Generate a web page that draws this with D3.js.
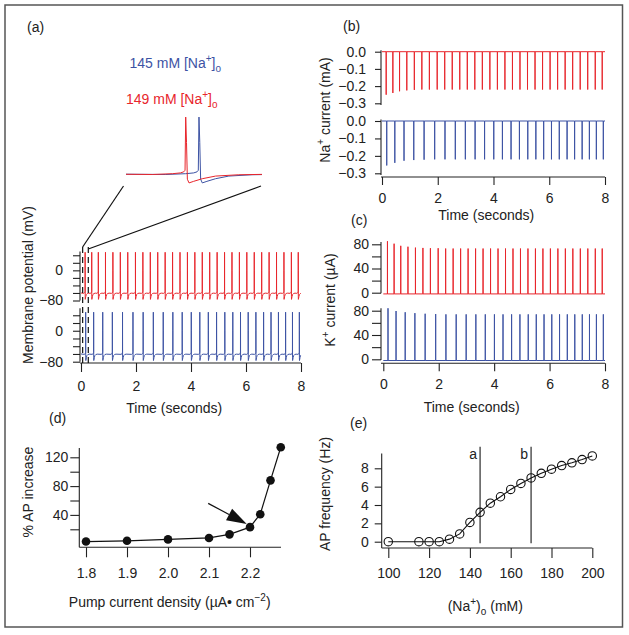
<!DOCTYPE html>
<html><head><meta charset="utf-8">
<script src="https://cdn.jsdelivr.net/npm/d3@7"></script>
<style>
body{margin:0;background:#fff;}
svg{display:block;}
text{font-family:"Liberation Sans",Arial,Helvetica,sans-serif;font-size:14px;fill:#222;}
</style></head><body>
<svg id="fig" width="629" height="635"></svg>
<script>
// ---------------- DATA ----------------
const redSpikeTimes = [0.15,0.39,0.63,0.89,1.16,1.43,1.70,1.98,2.25,2.52,2.79,3.06,3.33,3.60,3.87,4.14,4.41,4.68,4.95,5.22,5.49,5.76,6.03,6.30,6.57,6.84,7.11,7.38,7.65,7.90];
const blueSpikeTimes = [0.17,0.46,0.79,1.14,1.51,1.89,2.26,2.63,2.99,3.34,3.68,4.01,4.32,4.63,4.93,5.23,5.52,5.80,6.08,6.36,6.64,6.91,7.18,7.44,7.69,7.94];
const redNaPeaks = [-0.25,-0.24,-0.23,-0.225,-0.222,-0.22,-0.22,-0.22,-0.22,-0.22,-0.22,-0.22,-0.22,-0.22,-0.22,-0.22,-0.22,-0.22,-0.22,-0.22,-0.22,-0.22,-0.22,-0.22,-0.22,-0.22,-0.22,-0.22,-0.22,-0.22];
const blueNaPeaks = [-0.255,-0.24,-0.228,-0.224,-0.222,-0.22,-0.22,-0.22,-0.22,-0.22,-0.22,-0.22,-0.22,-0.22,-0.22,-0.22,-0.22,-0.22,-0.22,-0.22,-0.22,-0.22,-0.22,-0.22,-0.22,-0.22];
const redKPeaks = [85,81,77.5,76,74.5,74,73.5,73.5,73,73,73,73,73,73,73,73,73,73,73,73,73,73,73,73,73,73,73,73,73,73];
const blueKPeaks = [84,79.5,77.5,76,75,74.5,74,74,74,74,74,74,74,74,74,74,74,74,74,74,74,74,74,74,74,74];
const kBaseline = -2;
const vmPeak = 48;
// action potential shape (time offset s, mV)
const apShapeT = [-0.05,-0.02,-0.008,-0.003,-0.001,0,0.0012,0.0025,0.005,0.012,0.025,0.045,0.08,0.13];
const apShapeV = [-61,-59.5,-58,-56,-53,48,0,-70,-77,-74,-69,-64,-61.5,-60.5];
const zoomWindow = [0.06,0.265];
const timeTicks = [0,2,4,6,8];
const vmTicks = [-80,-60,-40,-20,0,20,40];
const vmLabels = [0,-80];
const naTicks = [0,-0.1,-0.2,-0.3];
const kTicks = [0,20,40,60,80];
const kLabels = [0,40,80];
const pumpDensity = [1.8,1.9,2.0,2.1,2.15,2.2,2.225,2.25,2.275];
const apIncrease = [3,4,6,8,13,23,41,88,134];
const pumpTicks = [1.8,1.9,2.0,2.1,2.2];
const apIncTicks = [20,40,60,80,100,120];
const apIncLabels = [40,80,120];
const naConc = [100,115,120,125,130,135,140,145,150,155,160,165,170,175,180,185,190,195,200];
const apFreq = [0,0,0,0,0.28,0.85,2.1,3.2,4.2,4.9,5.7,6.35,6.95,7.45,7.9,8.3,8.6,8.95,9.35];
const naTicksX = [100,120,140,160,180,200];
const freqTicks = [0,2,4,6,8];
const markerConc = [145,170];
const markerNames = ["a","b"];
const arrowFrom = [2.098,56], arrowTo = [2.192,27.5];

// ---------------- SETUP ----------------
const RED="#e8262c", BLUE="#3d53a4", AX="#222";
const svg = d3.select("#fig");
svg.append("rect").attr("x",5).attr("y",5).attr("width",617.5).attr("height",622)
  .attr("fill","none").attr("stroke","#555").attr("stroke-width",1.5);

function rich(sel, parts){
  let off=0;
  parts.forEach(p=>{
    const target = p.sup? -6 : p.sub? 4 : 0;
    const ts = sel.append("tspan").text(p.t).attr("dy", target-off);
    if(p.sup||p.sub) ts.attr("font-size",10);
    off=target;
  });
  return sel;
}
function label(x,y,txt,anchor){
  return svg.append("text").attr("x",x).attr("y",y).attr("text-anchor",anchor||"start").text(txt);
}
function yTitle(x,y,parts){
  const t = svg.append("text").attr("transform",`translate(${x},${y}) rotate(-90)`).attr("text-anchor","middle");
  rich(t,parts); return t;
}
function xTitle(x,y,parts){
  const t = svg.append("text").attr("x",x).attr("y",y).attr("text-anchor","middle");
  rich(t,parts); return t;
}
const minus = d3.format("d");
function yAxis(scale,x,ticks,labeled,fmt,len,pad,ext){
  const g = svg.append("g").attr("transform",`translate(${x},0)`)
    .call(d3.axisLeft(scale).tickValues(ticks).tickSize(len).tickPadding(pad).tickSizeOuter(0)
      .tickFormat(d=> labeled.indexOf(d)>=0 ? fmt(d) : ""));
  g.select(".domain").remove();
  g.append("line").attr("y1",scale(ext[0])).attr("y2",scale(ext[1]));
  g.selectAll("line").attr("stroke",AX).attr("stroke-width",1.1);
  return g;
}
function xAxis(scale,y,ticks,fmt,len,pad,x0,x1){
  const g = svg.append("g").attr("transform",`translate(0,${y})`)
    .call(d3.axisBottom(scale).tickValues(ticks).tickSize(len).tickPadding(pad).tickSizeOuter(0).tickFormat(fmt));
  g.select(".domain").remove();
  g.append("line").attr("x1",x0).attr("x2",x1);
  g.selectAll("line").attr("stroke",AX).attr("stroke-width",1.1);
  return g;
}
function vmTrace(spikes){
  const pts=[[0,-60]];
  spikes.forEach((ts,i)=>{
    const prev = i>0?spikes[i-1]:-1, next = i<spikes.length-1?spikes[i+1]:100;
    apShapeT.forEach((dt,j)=>{
      const t=ts+dt;
      if(dt<0 && t<=prev+0.13) return;
      if(dt>=0 && t>=next-0.05) return;
      if(t<0||t>8) return;
      pts.push([t, dt===0? vmPeak : apShapeV[j]]);
    });
  });
  pts.push([8, pts[pts.length-1][1]]);
  return pts;
}
function pulseTrace(spikes,peaks,base){
  const pts=[[0,base]];
  spikes.forEach((ts,i)=>{ pts.push([ts-0.002,base],[ts,peaks[i]],[ts+0.002,base]); });
  pts.push([8,base]);
  return pts;
}
function drawLine(data,xs,ys,color,clip){
  const p = svg.append("path").datum(data).attr("fill","none").attr("stroke",color).attr("stroke-width",1)
    .attr("d", d3.line().x(d=>xs(d[0])).y(d=>ys(d[1])));
  if(clip) p.attr("clip-path",clip);
  return p;
}

// ---------------- PANEL (a) ----------------
const xA = d3.scaleLinear([0,8],[81,301]);
const yAr = d3.scaleLinear([-80,50],[300.5,251.5]);
const yAb = d3.scaleLinear([-80,58],[361.7,308.3]);
yAxis(yAr,80,vmTicks,vmLabels,minus,7,10,[-80,50]);
yAxis(yAb,80,vmTicks,vmLabels,minus,7,10,[-80,58]);
xAxis(xA,363,timeTicks,d3.format("d"),9,9,80,301);
drawLine(vmTrace(redSpikeTimes),xA,yAr,RED);
drawLine(vmTrace(blueSpikeTimes),xA,yAb,BLUE);
// dashed zoom window
zoomWindow.forEach(t=>{
  svg.append("line").attr("x1",xA(t)).attr("x2",xA(t)).attr("y1",247).attr("y2",366)
    .attr("stroke","#111").attr("stroke-width",1.2).attr("stroke-dasharray","6,4");
});
// inset
const xI = d3.scaleLinear(zoomWindow,[126,262]);
const yI = d3.scaleLinear([-80,50],[184.5,116]);
svg.append("clipPath").attr("id","insetClip").append("rect").attr("x",126).attr("y",100).attr("width",136).attr("height",100);
drawLine(vmTrace(blueSpikeTimes),xI,yI,BLUE,"url(#insetClip)");
drawLine(vmTrace(redSpikeTimes),xI,yI,RED,"url(#insetClip)");
svg.append("line").attr("x1",xA(zoomWindow[0])).attr("y1",247).attr("x2",123.5).attr("y2",186).attr("stroke","#111").attr("stroke-width",1.2);
svg.append("line").attr("x1",xA(zoomWindow[1])).attr("y1",249).attr("x2",261).attr("y2",186).attr("stroke","#111").attr("stroke-width",1.2);
rich(svg.append("text").attr("x",129.5).attr("y",68.3).style("fill",BLUE),
  [{t:"145 mM [Na"},{t:"+",sup:true},{t:"]"},{t:"o",sub:true}]);
rich(svg.append("text").attr("x",126).attr("y",104.3).style("fill",RED),
  [{t:"149 mM [Na"},{t:"+",sup:true},{t:"]"},{t:"o",sub:true}]);
label(27,32,"(a)");
yTitle(33,285,[{t:"Membrane potential (mV)"}]);
xTitle(174.3,413,[{t:"Time (seconds)"}]);

// ---------------- PANEL (b) ----------------
const xB = d3.scaleLinear([0,8],[382,605]);
const yBr = d3.scaleLinear([-0.3,0],[103.3,51.7]);
const yBb = d3.scaleLinear([-0.3,0],[173.3,121]);
const f1 = d3.format(".1f");
yAxis(yBr,381,naTicks,naTicks,f1,6,9,[-0.31,0.008]);
yAxis(yBb,381,naTicks,naTicks,f1,6,9,[-0.31,0.008]);
xAxis(xB,177,timeTicks,d3.format("d"),8,8,381,605);
drawLine(pulseTrace(redSpikeTimes,redNaPeaks,0),xB,yBr,RED);
drawLine(pulseTrace(blueSpikeTimes,blueNaPeaks,0),xB,yBb,BLUE);
label(343,31,"(b)");
yTitle(330,110,[{t:"Na"},{t:"+",sup:true},{t:" current (mA)"}]);
xTitle(486.3,220,[{t:"Time (seconds)"}]);

// ---------------- PANEL (c) ----------------
const xC = d3.scaleLinear([0,8],[383.3,605]);
const yCr = d3.scaleLinear([0,80],[292.7,244.3]);
const yCb = d3.scaleLinear([0,80],[359.3,310.7]);
yAxis(yCr,381,kTicks,kLabels,d3.format("d"),9,3,[-1,84]);
yAxis(yCb,381,kTicks,kLabels,d3.format("d"),9,3,[-1,84]);
xAxis(xC,363.3,timeTicks,d3.format("d"),8,8,381,605);
drawLine(pulseTrace(redSpikeTimes,redKPeaks,kBaseline),xC,yCr,RED);
drawLine(pulseTrace(blueSpikeTimes,blueKPeaks,kBaseline),xC,yCb,BLUE);
label(351,224.5,"(c)");
yTitle(335,300,[{t:"K"},{t:"+",sup:true},{t:" current (\u00b5A)"}]);
xTitle(471.7,411.7,[{t:"Time (seconds)"}]);

// ---------------- PANEL (d) ----------------
const xD = d3.scaleLinear([1.8,2.2],[86,250]);
const yD = d3.scaleLinear([0,120],[543.7,457.3]);
yAxis(yD,79.3,apIncTicks,apIncLabels,d3.format("d"),9,2,[-5,133]);
xAxis(xD,547.3,pumpTicks,f1,10,11,79.3,281);
svg.append("path").datum(pumpDensity.map((d,i)=>[d,apIncrease[i]])).attr("fill","none")
  .attr("stroke","#111").attr("stroke-width",1.2)
  .attr("d",d3.line().x(d=>xD(d[0])).y(d=>yD(d[1])));
svg.selectAll(".dpt").data(pumpDensity).enter().append("circle")
  .attr("cx",d=>xD(d)).attr("cy",(d,i)=>yD(apIncrease[i])).attr("r",4.3).attr("fill","#111");
// arrow
{
  const x0=xD(arrowFrom[0]), y0=yD(arrowFrom[1]), x1=xD(arrowTo[0]), y1=yD(arrowTo[1]);
  const L=Math.hypot(x1-x0,y1-y0), ux=(x1-x0)/L, uy=(y1-y0)/L, hl=20, hw=6.5;
  const bx=x1-ux*hl, by=y1-uy*hl;
  svg.append("line").attr("x1",x0).attr("y1",y0).attr("x2",bx).attr("y2",by).attr("stroke","#111").attr("stroke-width",1.2);
  svg.append("path").attr("d",`M${x1},${y1}L${bx-uy*hw},${by+ux*hw}L${bx+uy*hw},${by-ux*hw}Z`).attr("fill","#111");
}
label(49,423,"(d)");
yTitle(33,492,[{t:"% AP increase"}]);
xTitle(169.7,606.7,[{t:"Pump current density (\u00b5A\u2022 cm"},{t:"\u22122",sup:true},{t:")"}]);

// ---------------- PANEL (e) ----------------
const xE = d3.scaleLinear([100,200],[388.3,592.3]);
const yE = d3.scaleLinear([0,8],[541.7,468.3]);
yAxis(yE,381.7,freqTicks,freqTicks,d3.format("d"),7,6,[-0.7,9.6]);
xAxis(xE,548,naTicksX,d3.format("d"),10,10,381.7,592.3);
markerConc.forEach((c,i)=>{
  svg.append("line").attr("x1",xE(c)).attr("x2",xE(c)).attr("y1",446.7).attr("y2",543.3)
    .attr("stroke","#555").attr("stroke-width",1.5);
  label(xE(c)-7,459.3,markerNames[i],"middle");
});
svg.append("path").datum(naConc.map((d,i)=>[d,apFreq[i]])).attr("fill","none")
  .attr("stroke","#111").attr("stroke-width",1.1)
  .attr("d",d3.line().x(d=>xE(d[0])).y(d=>yE(d[1])));
svg.selectAll(".ept").data(naConc).enter().append("circle")
  .attr("cx",d=>xE(d)).attr("cy",(d,i)=>yE(apFreq[i])).attr("r",4.2)
  .attr("fill","none").attr("stroke","#111").attr("stroke-width",1.1);
label(350,428,"(e)");
yTitle(330,494,[{t:"AP frequency (Hz)"}]);
xTitle(485.3,611,[{t:"(Na"},{t:"+",sup:true},{t:")"},{t:"o",sub:true},{t:" (mM)"}]);
</script>
</body></html>
